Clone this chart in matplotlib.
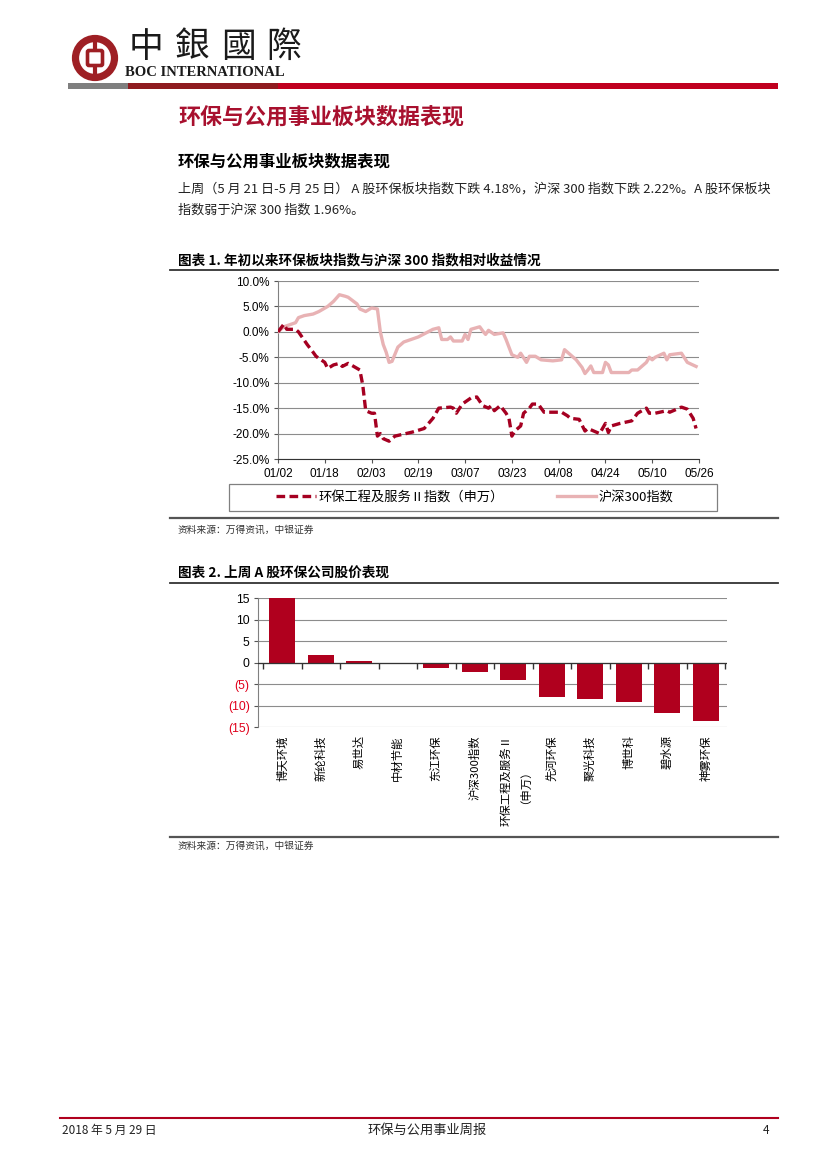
import matplotlib
matplotlib.use('Agg')
import matplotlib.pyplot as plt
import matplotlib.dates as mdates
from matplotlib.patches import Circle, Rectangle, FancyBboxPatch
from matplotlib.ticker import FuncFormatter
import pandas as pd
import numpy as np

# ---------------- data ----------------
hs300_dates = ['2018-01-02', '2018-01-04', '2018-01-08', '2018-01-09', '2018-01-11', '2018-01-14',
               '2018-01-16', '2018-01-19', '2018-01-21', '2018-01-23', '2018-01-25', '2018-01-26',
               '2018-01-29', '2018-01-30', '2018-02-01', '2018-02-03', '2018-02-05', '2018-02-06',
               '2018-02-07', '2018-02-08', '2018-02-09', '2018-02-10', '2018-02-12', '2018-02-14',
               '2018-02-19', '2018-02-24', '2018-02-26', '2018-02-27', '2018-03-01', '2018-03-02',
               '2018-03-03', '2018-03-06', '2018-03-07', '2018-03-08', '2018-03-09', '2018-03-12',
               '2018-03-13', '2018-03-14', '2018-03-15', '2018-03-17', '2018-03-20', '2018-03-21',
               '2018-03-23', '2018-03-25', '2018-03-26', '2018-03-28', '2018-03-29', '2018-03-31',
               '2018-04-02', '2018-04-06', '2018-04-09', '2018-04-10', '2018-04-12', '2018-04-14',
               '2018-04-16', '2018-04-17', '2018-04-18', '2018-04-19', '2018-04-20', '2018-04-23',
               '2018-04-24', '2018-04-25', '2018-04-26', '2018-05-02', '2018-05-03', '2018-05-05',
               '2018-05-08', '2018-05-09', '2018-05-10', '2018-05-11', '2018-05-14', '2018-05-15',
               '2018-05-16', '2018-05-20', '2018-05-22', '2018-05-25']
hs300_values = [0.0, 1.0, 1.8, 2.8, 3.2, 3.5,
                4.0, 5.0, 6.0, 7.3, 7.0, 6.8,
                5.5, 4.5, 4.0, 4.7, 4.5, 0.0,
                -2.5, -4.0, -6.0, -5.8, -3.0, -2.0,
                -1.0, 0.5, 0.8, -1.5, -1.5, -1.0,
                -1.8, -1.8, -0.5, -1.5, 0.5, 1.0,
                0.2, -0.5, 0.3, -0.5, -0.2, -1.5,
                -4.5, -5.0, -4.2, -6.0, -4.8, -4.8,
                -5.5, -5.7, -5.5, -3.5, -4.5, -5.5,
                -7.0, -8.2, -7.5, -6.7, -8.0, -8.0,
                -6.0, -6.5, -8.0, -8.0, -7.5, -7.5,
                -6.0, -5.0, -5.5, -5.0, -4.2, -5.5,
                -4.5, -4.2, -6.0, -6.8]

env_dates = ['2018-01-02', '2018-01-04', '2018-01-05', '2018-01-08', '2018-01-09', '2018-01-12',
             '2018-01-14', '2018-01-15', '2018-01-18', '2018-01-19', '2018-01-21', '2018-01-23',
             '2018-01-24', '2018-01-26', '2018-01-27', '2018-01-30', '2018-01-31', '2018-02-01',
             '2018-02-03', '2018-02-04', '2018-02-05', '2018-02-06', '2018-02-07', '2018-02-09',
             '2018-02-11', '2018-02-17', '2018-02-21', '2018-02-24', '2018-02-26', '2018-03-02',
             '2018-03-03', '2018-03-04', '2018-03-06', '2018-03-09', '2018-03-11', '2018-03-13',
             '2018-03-15', '2018-03-16', '2018-03-17', '2018-03-19', '2018-03-21', '2018-03-22',
             '2018-03-23', '2018-03-24', '2018-03-26', '2018-03-27', '2018-03-29', '2018-03-30',
             '2018-04-01', '2018-04-03', '2018-04-09', '2018-04-11', '2018-04-12', '2018-04-15',
             '2018-04-17', '2018-04-18', '2018-04-20', '2018-04-22', '2018-04-24', '2018-04-25',
             '2018-04-26', '2018-04-29', '2018-05-03', '2018-05-05', '2018-05-08', '2018-05-09',
             '2018-05-11', '2018-05-15', '2018-05-16', '2018-05-20', '2018-05-22', '2018-05-24',
             '2018-05-25']
env_values = [0.0, 1.5, 0.5, 0.5, 0.0, -2.5,
              -4.0, -4.8, -6.0, -7.2, -6.5, -6.2,
              -6.8, -6.2, -6.5, -7.5, -10.5, -15.5,
              -16.0, -16.0, -20.5, -20.0, -21.0, -21.5,
              -20.5, -19.7, -19.0, -17.0, -15.0, -14.8,
              -15.0, -16.0, -14.2, -13.0, -12.8, -14.5,
              -15.0, -14.5, -15.5, -14.5, -16.0, -17.0,
              -20.5, -19.5, -18.5, -16.0, -15.0, -14.2,
              -14.2, -15.8, -15.8, -16.5, -17.0, -17.2,
              -19.5, -19.0, -19.5, -20.0, -18.0, -19.8,
              -18.5, -18.0, -17.5, -16.0, -15.0, -16.0,
              -16.0, -15.5, -15.8, -14.8, -15.2, -17.0,
              -19.0]

series_labels = ['环保工程及服务Ⅱ指数（申万）', '沪深300指数']
date_ticks_start = '2018-01-02'
date_ticks_end = '2018-05-26'

companies = ['博天环境', '新纶科技', '易世达', '中材节能', '东江环保', '沪深300指数',
             '环保工程及服务Ⅱ\n（申万）', '先河环保', '聚光科技', '博世科', '碧水源', '神雾环保']
weekly_change = [15.0, 1.8, 0.4, -0.1, -1.2, -2.22, -4.18, -8.1, -8.6, -9.1, -11.8, -13.5]

# ---------------- style ----------------
W, H = 827, 1169
CJK = ['Noto Sans CJK SC', 'DejaVu Sans']
LAT = ['Liberation Sans', 'DejaVu Sans']
RED = '#A50021'
BAR = '#B0001E'
PINK = '#E8B2B4'
HEAD = '#A8102E'
GRID = '#8C8C8C'

plt.rcParams['font.family'] = CJK

fig = plt.figure(figsize=(W / 100, H / 100), dpi=100)


def fx(x):
    return x / W


def fy(y):
    return 1 - y / H


# full-page overlay in pixel coordinates
ax0 = fig.add_axes([0, 0, 1, 1])
ax0.set_xlim(0, W)
ax0.set_ylim(H, 0)
ax0.axis('off')

# logo
LOGO = '#9E1F24'
ax0.add_patch(Circle((95, 58), 19.5, fill=False, ec=LOGO, lw=5.2, zorder=2))
ax0.plot([95, 95], [40, 77], color=LOGO, lw=3.0, solid_capstyle='butt', zorder=2)
ax0.add_patch(FancyBboxPatch((89, 52), 12, 12, boxstyle='round,pad=1.5', fc='white', ec=LOGO,
                             lw=2.6, zorder=3))
for i, ch in enumerate('中銀國際'):
    ax0.text(146 + i * 46, 47, ch, fontsize=25, family=['Noto Sans CJK TC', 'DejaVu Sans'],
             ha='center', va='center', color='#1a1a1a')
ax0.text(125, 72, 'BOC INTERNATIONAL', fontsize=10.5, family=['Liberation Serif', 'DejaVu Serif'],
         fontweight='bold', ha='left', va='center', color='#1a1a1a')
ax0.add_patch(Rectangle((68, 83), 60, 5.5, fc='#7F7F7F', ec='none'))
ax0.add_patch(Rectangle((128, 83), 150, 5.5, fc='#8E1B1F', ec='none'))
ax0.add_patch(Rectangle((278, 83), 500, 5.5, fc='#C0001F', ec='none'))

# headings and body
ax0.text(178, 118, '环保与公用事业板块数据表现', fontsize=15.8, fontweight='bold', color=HEAD,
         ha='left', va='center')
ax0.text(178, 161, '环保与公用事业板块数据表现', fontsize=11.8, fontweight='bold', color='black',
         ha='left', va='center')
ax0.text(178, 189, '上周（5 月 21 日-5 月 25 日） A 股环保板块指数下跌 4.18%，沪深 300 指数下跌 2.22%。A 股环保板块',
         fontsize=9.45, color='#222222', ha='left', va='center')
ax0.text(178, 210, '指数弱于沪深 300 指数 1.96%。', fontsize=9.45, color='#222222', ha='left', va='center')

# chart 1 title / rules
ax0.text(178, 260, '图表 1. 年初以来环保板块指数与沪深 300 指数相对收益情况', fontsize=9.8,
         fontweight='bold', ha='left', va='center')
ax0.plot([170, 778], [270, 270], color='#333333', lw=1.3)
ax0.plot([170, 778], [518, 518], color='#555555', lw=1.6)
ax0.text(178, 530, '资料来源：万得资讯，中银证券', fontsize=7, color='#333333', ha='left', va='center')
ax0.add_patch(Rectangle((229, 484), 488, 27, fill=False, ec='#808080', lw=0.9))

# chart 2 title / rules
ax0.text(178, 573, '图表 2. 上周 A 股环保公司股价表现', fontsize=9.8, fontweight='bold',
         ha='left', va='center')
ax0.plot([170, 778], [583, 583], color='#333333', lw=1.3)
ax0.plot([170, 778], [837, 837], color='#555555', lw=1.6)
ax0.text(178, 846, '资料来源：万得资讯，中银证券', fontsize=7, color='#333333', ha='left', va='center')

# footer
ax0.plot([60, 778], [1118, 1118], color='#B0001E', lw=1.5)
ax0.text(62, 1130, '2018 年 5 月 29 日', fontsize=8.5, ha='left', va='center', color='#222222')
ax0.text(427, 1130, '环保与公用事业周报', fontsize=9.5, ha='center', va='center', color='#222222')
ax0.text(766, 1130, '4', fontsize=8.5, ha='center', va='center', color='#222222')

# ---------------- chart 1 ----------------
ax1 = fig.add_axes([fx(278), fy(459), (699 - 278) / W, (459 - 281) / H])
l_env, = ax1.plot(pd.to_datetime(env_dates), env_values, color=RED, lw=2.4,
                  dashes=(2.6, 1.3), zorder=4)
l_hs, = ax1.plot(pd.to_datetime(hs300_dates), hs300_values, color=PINK, lw=2.4, zorder=3)
ax1.set_ylim(-25, 10)
ax1.set_yticks(np.arange(-25, 10.1, 5))
ax1.yaxis.set_major_formatter(FuncFormatter(lambda v, p: f'{v:.1f}%'))
ax1.set_xlim(pd.Timestamp(date_ticks_start), pd.Timestamp(date_ticks_end))
ax1.set_xticks(pd.date_range(date_ticks_start, date_ticks_end, freq='16D'))
ax1.xaxis.set_major_formatter(mdates.DateFormatter('%m/%d'))
ax1.yaxis.grid(True, color=GRID, lw=0.8)
ax1.set_axisbelow(True)
for s in ['top', 'right']:
    ax1.spines[s].set_visible(False)
ax1.spines['left'].set_color('#808080')
ax1.spines['bottom'].set_color('#333333')
ax1.tick_params(axis='both', labelsize=8.5, length=3, color='#555555', width=0.8)
ax1.tick_params(axis='y', pad=3)
for lbl in ax1.get_xticklabels() + ax1.get_yticklabels():
    lbl.set_family(LAT)

fig.legend([l_env, l_hs], series_labels, loc='center', bbox_to_anchor=(fx(475), fy(497.5)),
           bbox_transform=fig.transFigure, ncol=2, frameon=False,
           prop={'family': CJK, 'size': 9.5}, handlelength=3.0, columnspacing=4.0,
           handletextpad=0.2)

# ---------------- chart 2 ----------------
ax2 = fig.add_axes([fx(258), fy(727), (727 - 258) / W, (727 - 598) / H])
x = np.arange(len(companies))
ax2.bar(x, weekly_change, width=0.67, color=BAR, zorder=3)
ax2.set_ylim(-15, 15)
yt = np.arange(-15, 15.1, 5)
ax2.set_yticks(yt)
ax2.set_yticklabels([f'({abs(int(v))})' if v < 0 else f'{int(v)}' for v in yt])
for lbl, v in zip(ax2.get_yticklabels(), yt):
    lbl.set_color('#E0001B' if v < 0 else 'black')
    lbl.set_family(LAT)
ax2.set_xlim(-0.63, len(companies) - 0.45)
ax2.set_xticks(x)
ax2.set_xticklabels(companies, rotation=90, va='top', ha='center', multialignment='center',
                    fontsize=8.2, family=CJK)
ax2.tick_params(axis='x', length=0, pad=6)
ax2.tick_params(axis='y', labelsize=8.8, length=3, color='#555555', pad=3)
ax2.yaxis.grid(True, color=GRID, lw=0.8)
ax2.set_axisbelow(True)
for s in ['top', 'right', 'bottom']:
    ax2.spines[s].set_visible(False)
ax2.spines['left'].set_color('#808080')
ax2.axhline(0, color='#333333', lw=0.9, zorder=4)
ax2.plot(np.arange(-0.5, len(companies), 1.0), np.zeros(len(companies) + 1), ls='none',
         marker=3, ms=4, color='#333333', zorder=4)

fig.savefig('out.png', dpi=100)
